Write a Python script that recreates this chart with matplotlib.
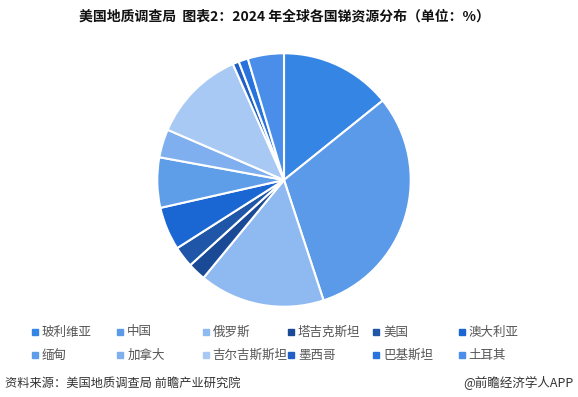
import matplotlib.pyplot as plt
from matplotlib.lines import Line2D

plt.rcParams['font.family'] = ['Noto Sans CJK SC', 'DejaVu Sans']

countries = ['玻利维亚', '中国', '俄罗斯', '塔吉克斯坦', '美国', '澳大利亚',
             '缅甸', '加拿大', '吉尔吉斯斯坦', '墨西哥', '巴基斯坦', '土耳其']
shares = [14.2, 30.7, 16.0, 2.3, 2.7, 5.5, 6.4, 3.6, 11.9, 0.8, 1.2, 4.6]
colors = ['#3585e5', '#5b9ae8', '#8fbaf1', '#1a4a96', '#1f56a8', '#1a66d2',
          '#5e9de8', '#7fafee', '#a8c9f4', '#1f5fc6', '#2873de', '#4a8ee9']

W, H = 578, 397
fig = plt.figure(figsize=(W / 100, H / 100), dpi=100)

cx, cy, r = 284, 180, 128
ax = fig.add_axes([(cx - r) / W, (H - cy - r) / H, 2 * r / W, 2 * r / H])
ax.pie(shares, colors=colors, startangle=90, counterclock=False,
       wedgeprops=dict(edgecolor='white', linewidth=1.5))
ax.set_xlim(-1.01, 1.01)
ax.set_ylim(-1.01, 1.01)

fig.text(284 / W, 1 - 17 / H, '美国地质调查局  图表2：2024 年全球各国锑资源分布（单位：%）',
         ha='center', va='center', fontsize=10, fontweight='bold', color='#111111')

# legend, 6 columns x 2 rows
for i, (name, c) in enumerate(zip(countries, colors)):
    col, row = i % 6, i // 6
    x = 35 + col * 85.3
    y = 332 + row * 23
    fig.add_artist(Line2D([x / W], [1 - y / H], marker='s', markersize=4.5,
                          color=c, linestyle='none', transform=fig.transFigure))
    fig.text((x + 7) / W, 1 - y / H, name, ha='left', va='center',
             fontsize=9, color='#555555')

fig.text(5 / W, 1 - 383 / H, '资料来源：美国地质调查局 前瞻产业研究院',
         ha='left', va='center', fontsize=8.8, color='#333333')
fig.text(573 / W, 1 - 383 / H, '@前瞻经济学人APP',
         ha='right', va='center', fontsize=9, color='#333333')

fig.savefig('out.png', dpi=100)
